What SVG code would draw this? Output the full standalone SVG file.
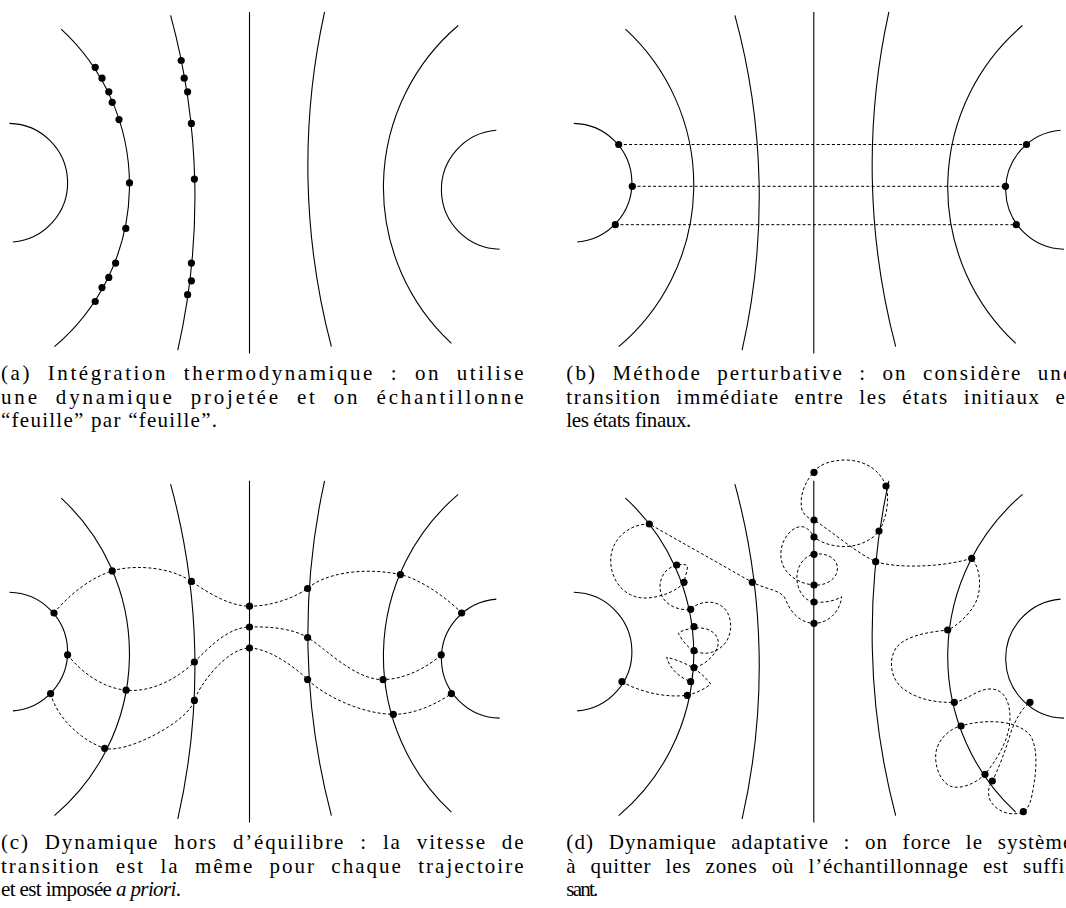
<svg xmlns="http://www.w3.org/2000/svg" xmlns:xlink="http://www.w3.org/1999/xlink" width="1066" height="908" viewBox="0 0 1066 908">
<style>
.l{fill:none;stroke:#000;stroke-width:1.1}
.d{fill:none;stroke:#000;stroke-width:1;stroke-dasharray:3 2.2}
.p{fill:#000}
.cap{font-family:"Liberation Serif","Times New Roman",serif;font-size:21px;fill:#000}
.j{word-spacing:8px}
</style>
<defs>
<g id="base">
<path class="l" d="M9.5,123.4 A59.4,59.4 0 0 1 12.9,242"/>
<path class="l" d="M61.2,29.2 A211.8,211.8 0 0 1 54.4,346.7"/>
<path class="l" d="M170.6,15.3 A691,691 0 0 1 177.8,350.1"/>
<path class="l" d="M249.5,11.9 V353.5"/>
<path class="l" d="M324.6,11.9 A711,711 0 0 0 331.4,346.7"/>
<path class="l" d="M458.2,25.5 A212.7,212.7 0 0 0 451.4,343.3"/>
<path class="l" d="M496.3,130.2 A59.6,59.6 0 0 0 499.7,249.2"/>
</g>
</defs>

<g id="panel-a">
<use href="#base"/>
<g class="p">
<circle cx="95.2" cy="67.3" r="3.6"/><circle cx="102" cy="78.2" r="3.6"/><circle cx="108.8" cy="91.8" r="3.6"/><circle cx="112.2" cy="102.3" r="3.6"/><circle cx="119" cy="119.6" r="3.6"/><circle cx="129.5" cy="182.9" r="3.6"/><circle cx="125.8" cy="228.4" r="3.6"/><circle cx="115.6" cy="263.1" r="3.6"/><circle cx="108.8" cy="277.4" r="3.6"/><circle cx="102" cy="287.6" r="3.6"/><circle cx="95.2" cy="301.5" r="3.6"/>
<circle cx="181.2" cy="60.5" r="3.6"/><circle cx="184.2" cy="78.2" r="3.6"/><circle cx="187.6" cy="91.8" r="3.6"/><circle cx="191.4" cy="123.4" r="3.6"/><circle cx="194.4" cy="179.1" r="3.6"/><circle cx="191.4" cy="263.1" r="3.6"/><circle cx="191.4" cy="280.8" r="3.6"/><circle cx="187.6" cy="294.7" r="3.6"/>
</g>
</g>

<g id="panel-b">
<use href="#base" x="564.3"/>
<g id="connectors-b">
<path class="d" d="M618.7,144.5 H1026.5 M632.3,186.3 H1005.5 M615.3,224.7 H1016.3"/>
</g>
<g class="p">
<circle cx="618.7" cy="144.5" r="3.6"/><circle cx="632.3" cy="186.3" r="3.6"/><circle cx="615.3" cy="224.7" r="3.6"/>
<circle cx="1026.5" cy="144.5" r="3.6"/><circle cx="1005.5" cy="186.3" r="3.6"/><circle cx="1016.3" cy="224.7" r="3.6"/>
</g>
</g>

<g id="panel-c">
<use href="#base" y="468.9"/>
<g id="connectors-c">
<path class="d" d="M54,613 C69,595 90,578 112.2,570.9 C127,566 165,564 191.4,581.4 C205,590.5 228,606.2 249.5,606.2 C268,606.2 291,600 307.6,588.5 C322,575 360,566 400.4,574.6 C418,578.3 445,596 461.6,613"/>
<path class="d" d="M67.6,654.8 C82,673 103,688 126.1,690.2 C150,692.5 176,680 194.4,662 C210,646.5 228,627.5 249.5,627 C268,626.5 292,628 307.6,637.5 C325,648 355,680 383.1,679.6 C405,679.3 428,667 441.2,654.8"/>
<path class="d" d="M50.6,693.6 C57,718 82,741 104.7,748.3 C126,754 188,722 194.4,700.4 C198,688 225,648.5 249.5,648 C266,648 292,664 307.6,679.6 C322,694 360,714 393.3,714.3 C415,714.6 438,703 451.4,693.6"/>
</g>
<g class="p">
<circle cx="54" cy="613" r="3.6"/><circle cx="112.2" cy="570.9" r="3.6"/><circle cx="191.4" cy="581.4" r="3.6"/><circle cx="249.5" cy="606.2" r="3.6"/><circle cx="307.6" cy="588.5" r="3.6"/><circle cx="400.4" cy="574.6" r="3.6"/><circle cx="461.6" cy="613" r="3.6"/>
<circle cx="67.6" cy="654.8" r="3.6"/><circle cx="126.1" cy="690.2" r="3.6"/><circle cx="194.4" cy="662" r="3.6"/><circle cx="249.5" cy="627" r="3.6"/><circle cx="307.6" cy="637.5" r="3.6"/><circle cx="383.1" cy="679.6" r="3.6"/><circle cx="441.2" cy="654.8" r="3.6"/>
<circle cx="50.6" cy="693.6" r="3.6"/><circle cx="104.7" cy="748.3" r="3.6"/><circle cx="194.4" cy="700.4" r="3.6"/><circle cx="249.5" cy="648" r="3.6"/><circle cx="307.6" cy="679.6" r="3.6"/><circle cx="393.3" cy="714.3" r="3.6"/><circle cx="451.4" cy="693.6" r="3.6"/>
</g>
</g>

<g id="panel-d">
<use href="#base" x="564.3" y="468.9"/>
<g id="connectors-d">
<path class="d" d="M622,681.7 C640,692 665,698 687.3,695.3 C697,693 706,688 710.7,684 C702,673 690,663 666.7,657.3 C669,667 678,677 690.7,681.7 C692,677 693,672 694,667.7 C705,665 716,655 718,645 C720,635 710,628 700,628 C690,628 682,630 678.3,633.3 C682,640 688,648 694,650.7 C705,656 718,653 726,642 C734,630 732,610 718,604 C708,600 697,603 690.7,609.3 C682,611 667,607 662,596 C657,585 662,572 670,568 C673,566 675,565 676.7,565 C682,564 688,564 687.5,567 C687,572 685,577 684,582.3 C678,590 663,597 647,598 C628,599 612,585 610.7,562 C610,540 628,524 649.3,524 L752.3,582.3 C768,590 780,590 785,598 C790,612 800,623 814,623.3 C828,623.5 840,612 841.7,596.7 C835,601 824,603 814,602 C805,601 798,592 797,580 C796,568 803,556 814,554.3 C828,552 840,560 837,572 C834,582 822,586 814,585 C800,584 783,575 781,558 C779,540 793,524 804,527 C809,529 812,533 814,537 C822,544 838,548 852,546 C864,544 874,538 879,531 C886,520 890,500 886,486 C880,470 866,461 847,460 C830,460 818,465 814,472.3 C804,482 799,498 802,510 C805,517 810,519 814,520 C830,530 855,552 875.7,561.7 C895,568 940,568 971.7,558.3 C982,570 982,595 973,607 C967,617 955,627 947.7,630 C930,632 906,635 896,648 C887,662 892,682 905,690 C918,699 935,703 954.3,702.3 C968,700 978,688 992,689 C1005,690 1010,703 1010,718 C1010,740 995,762 985,774.3 C975,784 960,790 950,786 C938,780 933,760 937,748 C941,736 952,728 961,726 C980,720 1015,718 1030,735 C1040,750 1035,780 1032,795 C1030,805 1027,810 1023.3,811.7 C1012,817 996,812 990,800 C987,792 989,785 992.3,781 C998,770 1005,752 1010,735 C1015,720 1022,708 1030,702.3"/>
</g>
<g class="p">
<circle cx="622" cy="681.7" r="3.6"/><circle cx="649.3" cy="524" r="3.6"/><circle cx="676.7" cy="565" r="3.6"/><circle cx="684" cy="582.3" r="3.6"/><circle cx="690.7" cy="609.3" r="3.6"/><circle cx="694" cy="626.7" r="3.6"/><circle cx="694" cy="650.7" r="3.6"/><circle cx="694" cy="667.7" r="3.6"/><circle cx="690.7" cy="681.7" r="3.6"/><circle cx="687.3" cy="695.3" r="3.6"/><circle cx="752.3" cy="582.3" r="3.6"/>
<circle cx="814" cy="472.3" r="3.6"/><circle cx="886" cy="486" r="3.6"/><circle cx="814" cy="520" r="3.6"/><circle cx="879" cy="531" r="3.6"/><circle cx="814" cy="537" r="3.6"/><circle cx="814" cy="554.3" r="3.6"/><circle cx="875.7" cy="561.7" r="3.6"/><circle cx="814" cy="585" r="3.6"/><circle cx="814" cy="602" r="3.6"/><circle cx="814" cy="623.3" r="3.6"/>
<circle cx="971.7" cy="558.3" r="3.6"/><circle cx="947.7" cy="630" r="3.6"/><circle cx="954.3" cy="702.3" r="3.6"/><circle cx="1030" cy="702.3" r="3.6"/><circle cx="961" cy="726" r="3.6"/><circle cx="985" cy="774.3" r="3.6"/><circle cx="992.3" cy="781" r="3.6"/><circle cx="1023.3" cy="811.7" r="3.6"/>
</g>
</g>

<g id="captions" class="cap">
<text class="j" x="1" y="380" textLength="522.5" lengthAdjust="spacing">(a) Intégration thermodynamique : on utilise</text>
<text class="j" x="1" y="403.5" textLength="522.5" lengthAdjust="spacing">une dynamique projetée et on échantillonne</text>
<text x="1" y="427" textLength="216" lengthAdjust="spacing">“feuille” par “feuille”.</text>
<text class="j" x="566.3" y="380" textLength="506" lengthAdjust="spacing">(b) Méthode perturbative : on considère une</text>
<text class="j" x="566.3" y="403.5" textLength="506" lengthAdjust="spacing">transition immédiate entre les états initiaux et</text>
<text x="566.3" y="427" textLength="125" lengthAdjust="spacing">les états finaux.</text>
<text class="j" x="1" y="849" textLength="522.5" lengthAdjust="spacing">(c) Dynamique hors d’équilibre : la vitesse de</text>
<text class="j" x="1" y="872.5" textLength="522.5" lengthAdjust="spacing">transition est la même pour chaque trajectoire</text>
<text x="1" y="896" textLength="180" lengthAdjust="spacing">et est imposée <tspan font-style="italic">a priori</tspan>.</text>
<text class="j" x="566.3" y="849" textLength="506" lengthAdjust="spacing">(d) Dynamique adaptative : on force le système</text>
<text class="j" x="566.3" y="872.5" textLength="506" lengthAdjust="spacing">à quitter les zones où l’échantillonnage est suffi-</text>
<text x="566.3" y="896" textLength="32" lengthAdjust="spacing">sant.</text>
</g>
</svg>
